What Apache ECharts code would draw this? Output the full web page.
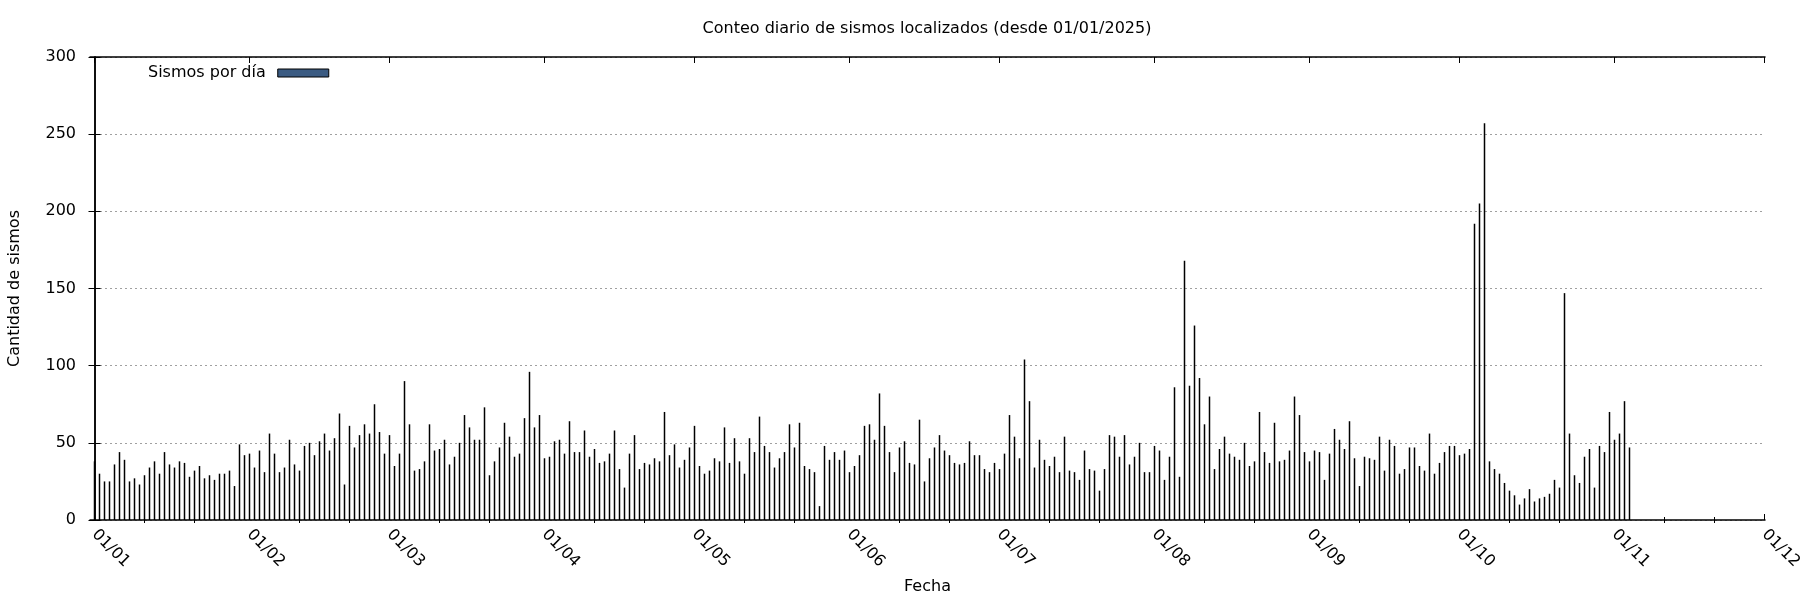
<!DOCTYPE html>
<html>
<head>
<meta charset="utf-8">
<script src="https://cdn.jsdelivr.net/npm/echarts@6/dist/echarts.min.js"></script>
<style>
html,body{margin:0;padding:0;background:#fff;}
#chart{width:1800px;height:600px;}
</style>
</head>
<body>
<div id="chart"></div>
<script>
// Daily counts starting 01/01/2025 (one value per day)
const dailyCounts = [
  38,30,25,25,36,44,39,25,27,23,29,34,38,30,44,36,34,38,37,28,32,35,27,29,26,30,30,32,22,49,42,
  43,34,45,31,56,43,31,34,52,36,32,48,50,42,51,56,45,53,69,23,61,47,55,62,56,75,57,43,55,35,43,
  90,62,32,33,38,62,45,46,52,36,41,50,68,60,52,52,73,29,38,47,63,54,41,43,66,96,60,68,40,41,51,
  52,43,64,44,44,58,41,46,37,38,43,58,33,21,43,55,33,37,36,40,38,70,42,49,34,39,47,61,35,30,32,
  40,38,60,37,53,38,30,53,44,67,48,44,34,40,44,62,47,63,35,33,31,9,48,39,44,39,45,31,35,42,
  61,62,52,82,61,44,31,47,51,37,36,65,25,40,47,55,45,42,37,36,37,51,42,42,33,31,37,33,43,68,54,
  40,104,77,34,52,39,35,41,31,54,32,31,26,45,33,32,19,33,55,54,41,55,36,41,50,31,31,48,45,26,41,
  86,28,168,87,126,92,62,80,33,46,54,43,41,39,50,35,38,70,44,37,63,38,39,45,80,68,44,38,45,44,26,
  43,59,52,46,64,40,22,41,40,39,54,32,52,48,30,33,47,47,35,32,56,30,37,44,48,48,42,43,46,192,205,
  257,38,33,30,24,19,16,10,14,20,12,14,15,17,26,21,147,56,29,24,41,46,21,48,44,70,52,56,77,47
];
// Month start positions (days since 01/01) and their labels
const monthTickDays = [0,31,59,90,120,151,181,212,243,273,304,334];
const monthTickLabels = ['01/01','01/02','01/03','01/04','01/05','01/06','01/07','01/08','01/09','01/10','01/11','01/12'];
// Minor ticks: +10 and +20 days after each month start
const minorTickDays = [10,20,41,51,69,79,100,110,130,140,161,171,191,201,222,232,253,263,283,293,314,324];
const yTickValues = [0,50,100,150,200,250,300];

const titleText = 'Conteo diario de sismos localizados (desde 01/01/2025)';
const seriesName = 'Sismos por día';

const FONT = 'DejaVu Sans';
const X_MIN = -0.9, X_MAX = 334.1;

const barData = dailyCounts.map((v, i) => [i, v]);
const labelMap = {};
monthTickDays.forEach((d, i) => { labelMap[d] = monthTickLabels[i]; });

function xAxisBase(extra) {
  return Object.assign({
    type: 'value', min: X_MIN, max: X_MAX,
    splitLine: {show: false},
    axisLine: {show: false},
    axisLabel: {show: false},
    axisTick: {show: false}
  }, extra);
}

const chart = echarts.init(document.getElementById('chart'), null, {renderer: 'canvas'});
chart.setOption({
  animation: false,
  backgroundColor: '#fff',
  textStyle: {fontFamily: FONT},
  title: {
    text: titleText, left: 927, top: 21, textAlign: 'center', padding: 0,
    textStyle: {fontFamily: FONT, fontSize: 16, fontWeight: 'normal', color: '#000'}
  },
  legend: {
    data: [{name: seriesName, itemStyle: {color: '#3b5b82', borderColor: '#000', borderWidth: 1}}],
    left: 148, top: 65, align: 'right', padding: 0,
    itemWidth: 51, itemHeight: 8, icon: 'rect',
    textStyle: {fontFamily: FONT, fontSize: 16, color: '#000', padding: [0, 7, 0, 0]}
  },
  grid: {left: 90, right: 35, top: 57, bottom: 80, containLabel: false, outerBoundsMode: 'none'},
  xAxis: [
    xAxisBase({
      position: 'bottom', name: 'Fecha', nameLocation: 'middle', nameGap: 59,
      nameTextStyle: {fontFamily: FONT, fontSize: 16, color: '#000'},
      axisLine: {show: true, onZero: false, lineStyle: {color: '#000', width: 1.5}},
      axisTick: {show: true, inside: true, length: 6, customValues: monthTickDays, lineStyle: {color: '#000'}},
      axisLabel: {
        show: true, rotate: -45, margin: 12, customValues: monthTickDays,
        fontFamily: FONT, fontSize: 16, color: '#000',
        formatter: v => labelMap[Math.round(v)] || ''
      }
    }),
    xAxisBase({
      position: 'bottom',
      axisTick: {show: true, inside: true, length: 3, customValues: minorTickDays, lineStyle: {color: '#000'}}
    }),
    xAxisBase({
      position: 'top',
      axisLine: {show: true, onZero: false, lineStyle: {color: '#000', width: 1.5}},
      axisTick: {show: true, inside: true, length: 6, customValues: monthTickDays, lineStyle: {color: '#000'}}
    }),
    xAxisBase({
      position: 'top',
      axisTick: {show: true, inside: true, length: 3, customValues: minorTickDays, lineStyle: {color: '#000'}}
    })
  ],
  yAxis: [
    {
      type: 'value', min: 0, max: 300, interval: 50, position: 'left',
      name: 'Cantidad de sismos', nameLocation: 'middle', nameGap: 67, nameRotate: 90,
      nameTextStyle: {fontFamily: FONT, fontSize: 16, color: '#000'},
      axisLine: {show: true, lineStyle: {color: '#000', width: 1.5}},
      axisTick: {show: true, inside: true, length: 6, lineStyle: {color: '#000'}},
      axisLabel: {fontFamily: FONT, fontSize: 16, color: '#000', margin: 14,
        formatter: v => (yTickValues.indexOf(v) >= 0 ? String(v) : '')},
      splitLine: {show: true, lineStyle: {color: '#a0a0a0', width: 1, type: [2, 3]}}
    },
    {
      type: 'value', min: 0, max: 300, interval: 50, position: 'right',
      axisLine: {show: true, lineStyle: {color: '#000', width: 1.5}},
      axisTick: {show: true, inside: true, length: 6, lineStyle: {color: '#000'}},
      axisLabel: {show: false},
      splitLine: {show: false}
    }
  ],
  series: [{
    name: seriesName, type: 'bar', xAxisIndex: 0, yAxisIndex: 0,
    data: barData, barWidth: 1.5,
    itemStyle: {color: '#000'},
    emphasis: {disabled: true}
  }]
});
</script>
</body>
</html>
